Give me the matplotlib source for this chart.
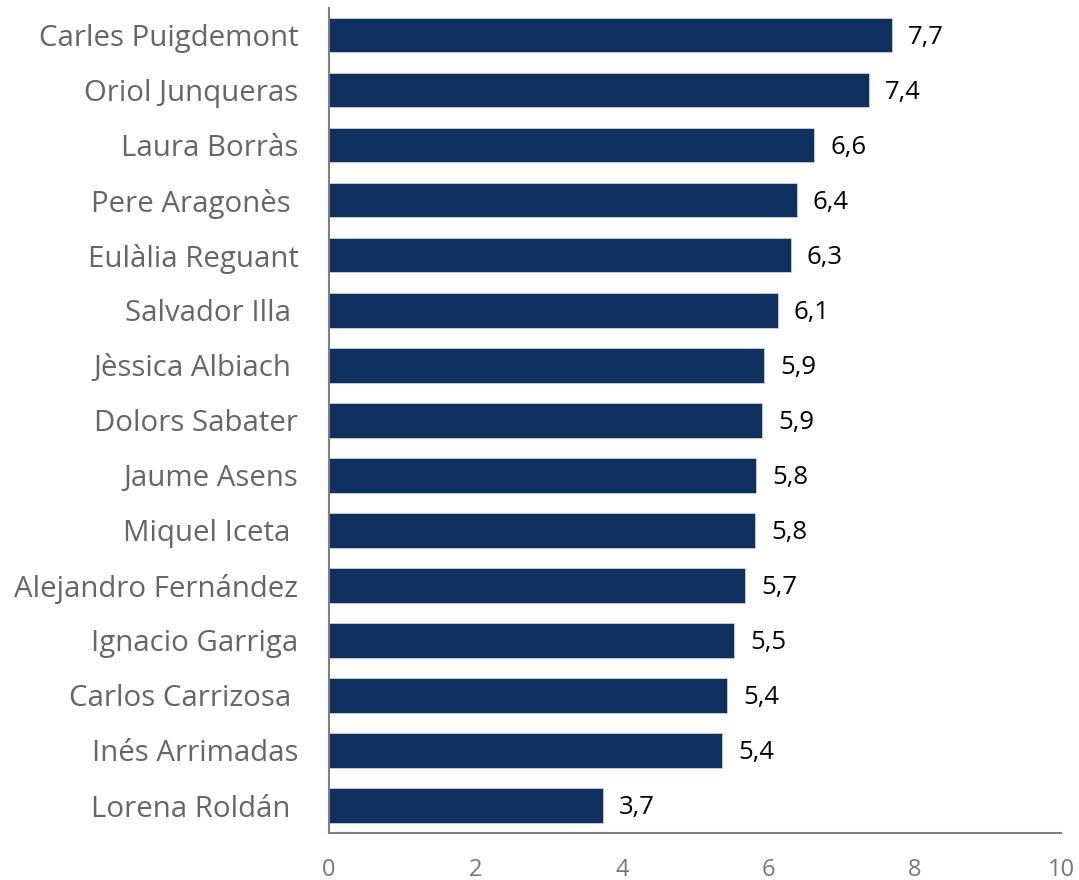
import numpy as np
import matplotlib.pyplot as plt

# Valoracio de lideres: nota mitjana

names = ["Carles Puigdemont", "Oriol Junqueras", "Laura Borràs", "Pere Aragonès ",
         "Eulàlia Reguant", "Salvador Illa ", "Jèssica Albiach ", "Dolors Sabater",
         "Jaume Asens", "Miquel Iceta ", "Alejandro Fernández", "Ignacio Garriga",
         "Carlos Carrizosa ", "Inés Arrimadas", "Lorena Roldán "]
scores = [7.69, 7.38, 6.63, 6.39, 6.31, 6.13, 5.94, 5.92, 5.83, 5.82, 5.68, 5.53,
          5.44, 5.37, 3.74]
xticks = [0, 2, 4, 6, 8, 10]

plt.rcParams['font.family'] = ['Open Sans', 'DejaVu Sans']

fig = plt.figure(figsize=(10.79, 8.8), dpi=100)
ax = fig.add_axes([0.3049, 0.0534, 0.6784, 0.9376])

y = np.arange(len(names))
ax.barh(y, scores, height=0.62, color='#10305f', edgecolor='#c8d0dc', linewidth=0.6)

for yi, v in zip(y, scores):
    ax.text(v + 0.22, yi + 0.03, f"{v:.1f}".replace('.', ','), va='center', ha='left',
            fontsize=18.5, color='black')

ax.set_ylim(14.5, -0.5)
ax.set_xlim(0, 10)
ax.set_yticks(y)
ax.set_yticklabels(names, fontsize=21.2, color='#666666')
ax.set_xticks(xticks)
ax.set_xticklabels([str(t) for t in xticks], fontsize=17, color='#777777')
ax.tick_params(axis='y', length=0, pad=22)
ax.tick_params(axis='x', length=0, pad=18)

for s in ['top', 'right']:
    ax.spines[s].set_visible(False)
for s in ['left', 'bottom']:
    ax.spines[s].set_color('#808080')
    ax.spines[s].set_linewidth(1.5)

fig.savefig('out.png', dpi=100)
